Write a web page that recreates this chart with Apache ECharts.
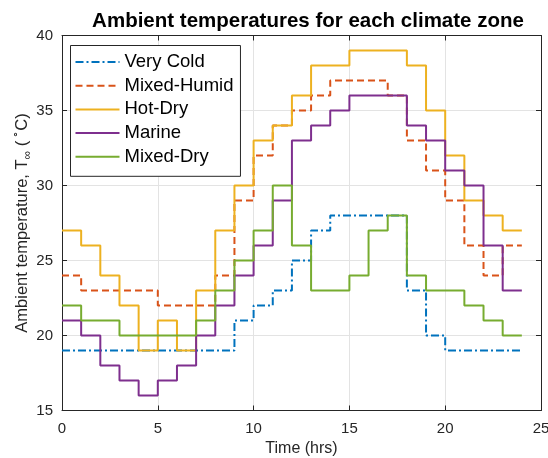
<!DOCTYPE html>
<html>
<head>
<meta charset="utf-8">
<script src="https://cdn.jsdelivr.net/npm/echarts@6/dist/echarts.min.js"></script>
<style>html,body{margin:0;padding:0;background:#fff;}#chart{width:548px;height:458px;}</style>
</head>
<body>
<div id="chart"></div>
<script>
const hours = [0,1,2,3,4,5,6,7,8,9,10,11,12,13,14,15,16,17,18,19,20,21,22,23,24];
const veryCold   = [19,19,19,19,19,19,19,19,19,21,22,23,25,27,28,28,28,28,23,20,19,19,19,19,19];
const mixedHumid = [24,23,23,23,23,22,22,22,24,29,32,34,35,36,37,37,37,36,33,31,29,26,24,26,26];
const hotDry     = [27,26,24,22,19,21,19,23,27,30,33,34,36,38,38,39,39,39,38,35,32,29,28,27,27];
const marine     = [21,20,18,17,16,17,18,20,22,24,26,29,33,34,35,36,36,36,34,33,31,30,26,23,23];
const mixedDry   = [22,21,21,20,20,20,20,21,23,25,27,30,26,23,23,24,27,28,24,23,23,22,21,20,20];
const seriesNames = ['Very Cold','Mixed-Humid','Hot-Dry','Marine','Mixed-Dry'];
const xTicks = [0,5,10,15,20,25];
const yTicks = [15,20,25,30,35,40];

const colors = ['#0072BD','#D95319','#EDB120','#7E2F8E','#77AC30'];
const dashes = [[8,3,2,3],[7,4],'solid','solid','solid'];
const allVals = [veryCold, mixedHumid, hotDry, marine, mixedDry];
const font = 'Liberation Sans, Arial, Helvetica, sans-serif';
const axisColor = '#262626';

const chart = echarts.init(document.getElementById('chart'), null, {renderer:'canvas'});
const baseX = {
  type:'value', min:xTicks[0], max:xTicks[xTicks.length-1], interval:5,
  axisLine:{show:true, onZero:false, lineStyle:{color:axisColor,width:1}},
  axisTick:{show:true, inside:true, length:5, lineStyle:{color:axisColor}}
};
const baseY = {
  type:'value', min:yTicks[0], max:yTicks[yTicks.length-1], interval:5,
  axisLine:{show:true, onZero:false, lineStyle:{color:axisColor,width:1}},
  axisTick:{show:true, inside:true, length:5, lineStyle:{color:axisColor}}
};
const option = {
  animation:false,
  backgroundColor:'#fff',
  color: colors,
  title:{
    text:'Ambient temperatures for each climate zone',
    left:303, top:6, textAlign:'center',
    textStyle:{fontFamily:font, fontSize:20.5, fontWeight:'bold', color:'#000'}
  },
  grid:{left:62, right:7, top:35.5, bottom:47.5, containLabel:false, outerBoundsMode:'none'},
  legend:{
    orient:'vertical', left:70.5, top:45.5,
    data: seriesNames,
    itemWidth:44, itemHeight:14, itemGap:4.7,
    padding:[7,7,10,4],
    borderColor:'#262626', borderWidth:1, backgroundColor:'#fff',
    itemStyle:{color:'transparent', borderWidth:0, opacity:0},
    textStyle:{fontFamily:font, fontSize:18.5, color:'#000'}
  },
  xAxis:[
    Object.assign({}, baseX, {
      position:'bottom',
      name:'Time (hrs)', nameLocation:'middle', nameGap:30, nameMoveOverlap:false,
      nameTextStyle:{fontFamily:font, fontSize:16, color:axisColor},
      axisLabel:{show:true, margin:11, fontFamily:font, fontSize:15, color:axisColor,
        formatter: v => xTicks.includes(v) ? String(v) : ''},
      splitLine:{show:true, lineStyle:{color:'#e3e3e3', width:1}}
    }),
    Object.assign({}, baseX, {
      position:'top', axisLabel:{show:false}, splitLine:{show:false}
    })
  ],
  yAxis:[
    Object.assign({}, baseY, {
      position:'left',
      name:'{a|Ambient temperature, T}{sub|∞}{a| (}{sup| ∘}{a|C)}',
      nameLocation:'middle', nameGap:28, nameRotate:90, nameMoveOverlap:false,
      nameTextStyle:{
        fontFamily:font, fontSize:16.5, color:axisColor,
        rich:{
          a:{fontFamily:font, fontSize:16.5, color:axisColor, lineHeight:24, verticalAlign:'middle'},
          sub:{fontFamily:font, fontSize:12, color:axisColor, lineHeight:12, verticalAlign:'bottom'},
          sup:{fontFamily:font, fontSize:11, color:axisColor, lineHeight:11, verticalAlign:'top'}
        }
      },
      axisLabel:{show:true, margin:9, fontFamily:font, fontSize:15, color:axisColor,
        formatter: v => yTicks.includes(v) ? String(v) : ''},
      splitLine:{show:true, lineStyle:{color:'#e3e3e3', width:1}}
    }),
    Object.assign({}, baseY, {
      position:'right', axisLabel:{show:false}, splitLine:{show:false}
    })
  ],
  series: seriesNames.map((name, k) => ({
    name, type:'line', step:'end', symbol:'none',
    xAxisIndex:0, yAxisIndex:0,
    data: hours.map((h,i) => [h, allVals[k][i]]),
    lineStyle:{color:colors[k], width:2, type:dashes[k]},
    itemStyle:{color:colors[k]},
    emphasis:{disabled:true}
  }))
};
chart.setOption(option);
</script>
</body>
</html>
